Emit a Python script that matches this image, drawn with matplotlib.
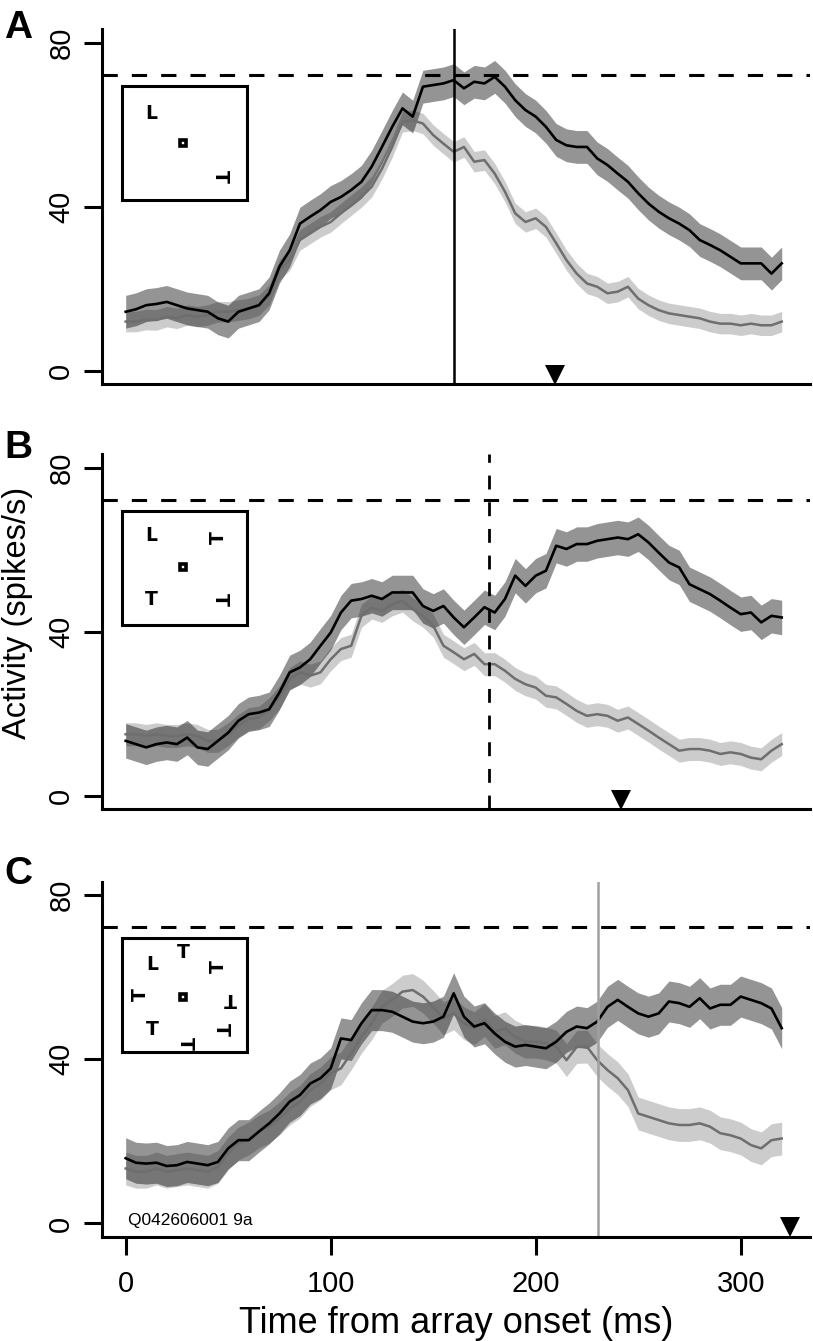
import numpy as np
import matplotlib.pyplot as plt
from matplotlib.patches import Rectangle

plt.rcParams['font.family'] = ['Liberation Sans', 'DejaVu Sans']

# time grid (ms) shared by all traces
t = [0, 5, 10, 15, 20, 25, 30, 35, 40, 45, 50, 55, 60, 65, 70, 75, 80, 85, 90, 95,
     100, 105, 110, 115, 120, 125, 130, 135, 140, 145, 150, 155, 160, 165, 170, 175, 180, 185, 190, 195,
     200, 205, 210, 215, 220, 225, 230, 235, 240, 245, 250, 255, 260, 265, 270, 275, 280, 285, 290, 295,
     300, 305, 310, 315, 320]

# panel A
a_black = [14.4, 15.0, 16.0, 16.3, 16.8, 16.0, 15.2, 14.8, 14.4, 12.8, 12.0, 14.4, 15.2, 16.0, 18.9, 25.4, 29.4, 35.9, 37.6, 39.2,
           41.2, 42.4, 44.1, 46.1, 49.8, 54.6, 59.5, 64.0, 62.0, 69.3, 69.7, 70.1, 70.9, 68.9, 70.5, 70.1, 71.7, 69.3, 66.0, 63.6,
           62.0, 59.5, 56.3, 55.0, 54.6, 54.6, 51.8, 50.2, 48.1, 46.1, 43.3, 40.8, 38.8, 37.2, 35.9, 34.3, 31.9, 30.7, 29.4, 27.8,
           26.2, 26.2, 26.2, 23.7, 26.2]
a_gray = [12.0, 12.0, 12.5, 12.4, 13.2, 12.8, 13.6, 13.2, 13.6, 14.4, 14.4, 14.8, 15.2, 16.0, 18.5, 24.6, 27.0, 31.9, 33.5, 35.1,
          36.3, 38.4, 40.4, 42.4, 44.9, 49.3, 54.6, 60.7, 61.1, 60.3, 57.5, 55.4, 53.4, 54.6, 51.0, 51.4, 48.1, 43.7, 38.4, 36.3,
          37.2, 35.1, 31.1, 27.0, 23.7, 21.3, 20.5, 18.9, 19.3, 20.5, 17.6, 16.0, 14.8, 14.0, 13.6, 13.2, 12.8, 12.0, 11.5, 11.5,
          11.1, 11.5, 11.1, 11.1, 12.0]
# panel B
b_black = [13.4, 12.6, 11.8, 12.6, 13.0, 12.6, 14.2, 11.8, 11.4, 13.4, 15.4, 18.3, 19.9, 20.3, 21.1, 25.2, 30.1, 31.3, 33.3, 36.6,
           39.8, 44.7, 47.6, 48.0, 48.8, 48.0, 49.6, 49.6, 49.6, 46.3, 45.1, 46.3, 43.5, 41.1, 43.5, 46.0, 44.7, 48.0, 53.7, 51.2,
           53.7, 54.9, 61.0, 60.2, 61.4, 61.4, 62.2, 62.6, 63.0, 62.6, 63.8, 61.8, 59.3, 56.9, 55.7, 51.6, 50.4, 49.2, 47.6, 45.9,
           44.3, 44.7, 42.3, 43.9, 43.5]
b_gray = [15.0, 15.0, 14.6, 15.0, 14.6, 14.6, 15.0, 14.6, 13.4, 13.4, 15.0, 17.1, 18.7, 19.1, 21.1, 24.0, 28.5, 30.1, 29.3, 30.1,
          33.3, 35.8, 36.6, 43.9, 45.9, 45.1, 46.7, 47.6, 45.5, 43.9, 41.5, 36.6, 35.0, 33.3, 34.6, 32.1, 32.1, 30.5, 28.5, 27.2,
          26.4, 24.4, 24.0, 22.4, 20.7, 19.5, 19.9, 19.5, 18.3, 19.1, 17.5, 15.9, 14.2, 12.6, 11.0, 11.4, 11.4, 11.0, 10.2, 10.6,
          10.2, 9.3, 8.9, 11.0, 12.6]
# panel C
c_black = [15.9, 14.8, 14.6, 14.8, 14.0, 14.2, 15.0, 14.6, 14.2, 15.0, 18.3, 20.3, 20.3, 22.4, 24.4, 26.8, 29.7, 31.3, 34.1, 35.4,
           37.8, 45.1, 44.7, 48.8, 52.0, 52.0, 51.6, 50.4, 49.2, 48.8, 49.2, 50.4, 56.1, 50.4, 48.0, 48.8, 46.3, 44.3, 43.1, 43.5,
           43.1, 42.7, 44.3, 46.7, 48.0, 47.6, 49.2, 52.8, 54.5, 52.8, 51.2, 50.4, 51.2, 54.1, 53.7, 52.8, 54.9, 52.4, 53.3, 53.3,
           55.3, 54.5, 53.7, 52.4, 47.6]
c_gray = [13.4, 12.6, 12.6, 13.4, 12.6, 13.0, 13.4, 13.0, 12.6, 13.8, 17.1, 19.5, 20.7, 22.4, 23.6, 25.6, 28.0, 29.7, 32.5, 34.1,
          36.6, 37.8, 41.5, 45.5, 48.8, 52.8, 54.5, 56.5, 56.9, 55.3, 52.8, 50.0, 51.2, 48.8, 47.6, 49.6, 46.7, 47.6, 45.5, 44.3,
          44.3, 43.9, 43.1, 39.8, 43.0, 43.1, 39.8, 37.4, 35.4, 32.5, 26.8, 26.0, 25.2, 24.4, 24.0, 24.0, 24.4, 23.6, 22.0, 21.5,
          20.7, 19.1, 18.3, 20.3, 20.7]

# SEM half-widths of the shaded bands
sem_black = [4.0, 4.2, 5.0]
sem_gray = [2.5, 2.8, 4.0]

threshold = 72.2
event_t = [160.3, 177.4, 230.2]
saccade_t = [209.4, 241.6, 324.0]
panel_labels = ['A', 'B', 'C']

# inset search-array glyphs: (glyph, rotation, t, v)
inset_a = [('L', 0, 12.7, 62.8), ('sq', 0, 28.1, 55.5), ('T', -90, 46.3, 47.5)]
inset_b = [('L', 0, 12.7, 63.4), ('T', 90, 45.2, 63.0), ('sq', 0, 28.1, 55.9),
           ('T', 0, 12.7, 48.0), ('T', -90, 46.3, 48.0)]
inset_c = [('T', 0, 28.1, 66.0), ('L', 0, 13.0, 63.0), ('T', 90, 45.2, 62.6),
           ('T', 90, 7.0, 55.7), ('sq', 0, 28.1, 55.3), ('T', 180, 50.9, 54.9),
           ('T', 0, 13.0, 47.2), ('T', -90, 46.5, 47.2), ('T', -90, 28.9, 44.0)]

fig = plt.figure(figsize=(8.13, 13.41), dpi=100)
W, H = 813, 1341
# axes boxes in pixels: (left, top, right, bottom)
boxes = [(101.7, 29.3, 810, 384.3), (101.7, 454.3, 810, 809.3), (101.7, 881.7, 810, 1237)]

blacks = [a_black, b_black, c_black]
grays = [a_gray, b_gray, c_gray]
insets = [inset_a, inset_b, inset_c]
tt = np.array(t)

for i in range(3):
    l, tp, r, b = boxes[i]
    ax = fig.add_axes([l / W, 1 - b / H, (r - l) / W, (b - tp) / H])
    ax.set_xlim(-11.7, 333.8)
    ax.set_ylim(-3.3, 83.3)
    for s in ['top', 'right']:
        ax.spines[s].set_visible(False)
    for s in ['left', 'bottom']:
        ax.spines[s].set_linewidth(2.2)

    yb = np.array(blacks[i])
    yg = np.array(grays[i])
    ax.fill_between(tt, yg - sem_gray[i], yg + sem_gray[i], color='black', alpha=0.2, lw=0)
    ax.fill_between(tt, yb - sem_black[i], yb + sem_black[i], color='black', alpha=0.42, lw=0)
    ax.plot(tt, yg, color='#6e6e6e', lw=1.8)
    ax.plot(tt, yb, color='black', lw=1.9)

    ax.axhline(threshold, color='black', lw=2.2, linestyle=(0, (5, 4.6)))
    if i == 0:
        ax.axvline(event_t[i], color='black', lw=1.8)
    elif i == 1:
        ax.axvline(event_t[i], color='black', lw=2.0, linestyle=(0, (5, 4.6)))
    else:
        ax.axvline(event_t[i], color='#a0a0a0', lw=1.8)

    ax.plot([saccade_t[i]], [-0.93], marker='v', ms=14, color='black', mew=0, clip_on=False)

    # inset box with the search array
    ax.add_patch(Rectangle((-2, 41.7), 61.3, 27.8, fill=False, lw=2.2, edgecolor='black'))
    for g, rot, gx, gy in insets[i]:
        if g == 'sq':
            ax.plot([gx], [gy], marker='s', ms=4.4, mfc='white', mec='black', mew=2.6)
        else:
            ax.text(gx, gy, g, rotation=rot, ha='center', va='center', fontsize=13.5,
                    fontweight='bold', family='DejaVu Sans')

    ax.set_yticks([0, 40, 80])
    ax.tick_params(axis='y', length=13, width=2.2, labelsize=21, pad=6, labelrotation=90)
    plt.setp(ax.get_yticklabels(), va='center')
    if i < 2:
        ax.set_xticks([])
    else:
        ax.set_xticks([0, 100, 200, 300])
        ax.tick_params(axis='x', length=13, width=2.2, labelsize=21, pad=11)
        ax.text(1.3, 0.8, 'Q042606001 9a', fontsize=12.5, ha='left', va='center')

    fig.text(18.5 / W, 1 - (27.5 + 421 * i + (5 if i == 2 else 0)) / H, panel_labels[i],
             fontsize=28, fontweight='bold', ha='center', va='center')

fig.text(18 / W, 1 - 612.5 / H, 'Activity (spikes/s)', rotation=90, fontsize=23.5,
         ha='center', va='center')
fig.text(456 / W, 1 - 1333 / H, 'Time from array onset (ms)', fontsize=26,
         ha='center', va='baseline')

plt.savefig('out.png', dpi=100)
